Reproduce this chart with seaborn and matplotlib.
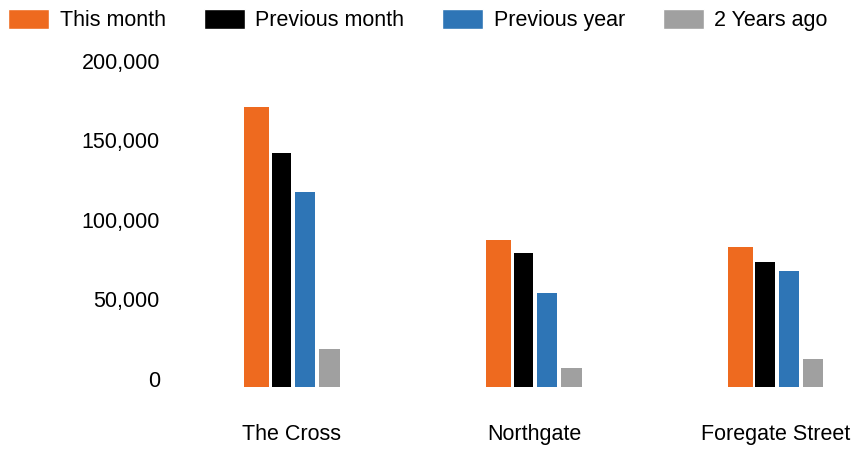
import matplotlib
matplotlib.use("Agg")
import matplotlib.pyplot as plt
import seaborn as sns
import pandas as pd

categories = ["The Cross", "Northgate", "Foregate Street"]
series_names = ["This month", "Previous month", "Previous year", "2 Years ago"]
this_month = [176000, 92300, 87700]
previous_month = [147200, 83900, 78200]
previous_year = [122600, 58700, 73000]
two_years_ago = [23500, 11900, 17400]
y_ticks = [0, 50000, 100000, 150000, 200000]
y_tick_labels = ["0", "50,000", "100,000", "150,000", "200,000"]

colors = ["#EE6A1F", "#000000", "#2E75B6", "#A0A0A0"]

rows = []
for name, vals in zip(series_names, [this_month, previous_month, previous_year, two_years_ago]):
    for c, v in zip(categories, vals):
        rows.append({"Location": c, "Series": name, "Value": v})
df = pd.DataFrame(rows)

sns.set_theme(style="white")
plt.rcParams["font.family"] = ["Liberation Sans", "DejaVu Sans"]
plt.rcParams["text.color"] = "black"
plt.rcParams["xtick.color"] = "black"
plt.rcParams["ytick.color"] = "black"

W, H = 858, 450
fig = plt.figure(figsize=(W / 100, H / 100), dpi=100)
ax_left, ax_right = 171, 858
ax_top, ax_bottom = 68.7, 386.7
ax = fig.add_axes([ax_left / W, (H - ax_bottom) / H, (ax_right - ax_left) / W, (ax_bottom - ax_top) / H])

sns.barplot(data=df, x="Location", y="Value", hue="Series", palette=colors,
            order=categories, hue_order=series_names, width=0.393, gap=0.12,
            ax=ax, legend=True, saturation=1)

# bar geometry styling (px offsets relative to group centre)
px_per_unit = 241.9
bar_edges = [(-47.7, -23.0), (-20.3, -1.0), (3.0, 23.3), (27.3, 47.7)]
for cont, (l, r) in zip(ax.containers, bar_edges):
    for i, p in enumerate(cont.patches):
        p.set_x(i + l / px_per_unit)
        p.set_width((r - l) / px_per_unit)
        p.set_linewidth(0)

ax.set_xlim(-0.5, (ax_right - 292) / px_per_unit)
ax.set_ylim(0, 200000)
ax.set_yticks(y_ticks)
ax.set_yticklabels(y_tick_labels, fontsize=15.5, va="baseline", color="black")
ax.tick_params(axis="y", length=0, pad=8, colors="black")
ax.tick_params(axis="x", length=0, pad=27, labelsize=15.5, colors="black")
ax.set_xlabel("")
ax.set_ylabel("")
for s in ax.spines.values():
    s.set_visible(False)

handles, labels = ax.get_legend_handles_labels()
ax.get_legend().remove()
leg = fig.legend(handles, labels, loc="upper left", bbox_to_anchor=(2 / W, 1 - 3 / H),
                 ncol=4, frameon=False, fontsize=15.5, handlelength=1.9, handleheight=1.0,
                 handletextpad=0.5, columnspacing=1.75, borderaxespad=0, borderpad=0.3)
for t in leg.get_texts():
    t.set_color("black")

fig.savefig("out.png", dpi=100)
